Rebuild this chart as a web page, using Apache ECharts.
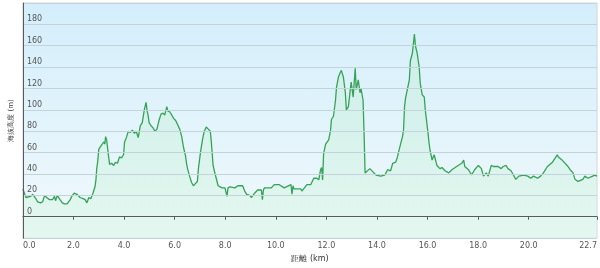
<!DOCTYPE html>
<html>
<head>
<meta charset="utf-8">
<script src="https://cdn.jsdelivr.net/npm/echarts@6/dist/echarts.min.js"></script>
<style>
html,body{margin:0;padding:0;background:#fff;}
#chart{width:600px;height:268px;}
</style>
</head>
<body>
<div id="chart"></div>
<script>
// Distance along the route (km)
const distanceKm = [
0.00,0.12,0.19,0.31,0.39,0.51,0.58,0.70,0.78,0.86,0.94,1.05,1.17,1.25,1.29,1.36,1.44,1.56,1.64,1.75,1.87,1.95,
2.03,2.14,2.26,2.38,2.46,2.53,2.61,2.69,2.77,2.85,2.89,2.92,2.96,3.00,3.08,3.12,3.20,3.24,3.27,3.31,3.39,3.43,
3.51,3.59,3.66,3.74,3.82,3.90,3.98,4.02,4.09,4.17,4.25,4.33,4.41,4.48,4.56,4.64,4.72,4.80,4.87,4.91,4.95,4.99,
5.07,5.15,5.22,5.30,5.38,5.46,5.54,5.61,5.69,5.73,5.81,5.89,5.96,6.04,6.12,6.20,6.28,6.35,6.43,6.47,6.51,6.59,
6.67,6.74,6.82,6.90,6.94,7.02,7.10,7.17,7.25,7.33,7.41,7.45,7.49,7.52,7.60,7.72,7.80,7.88,7.99,8.03,8.07,8.11,
8.19,8.38,8.50,8.69,8.77,8.85,8.97,9.04,9.16,9.28,9.43,9.47,9.51,9.55,9.82,9.94,10.14,10.33,10.60,10.64,10.68,
10.72,10.99,11.03,11.23,11.38,11.50,11.62,11.70,11.77,11.81,11.85,11.89,11.97,12.09,12.16,12.20,12.28,12.36,
12.40,12.48,12.55,12.59,12.67,12.75,12.79,12.87,12.94,12.98,13.06,13.14,13.18,13.26,13.33,13.37,13.45,13.49,
13.53,13.57,13.72,13.84,13.96,14.15,14.31,14.42,14.54,14.62,14.74,14.81,14.89,15.01,15.05,15.09,15.13,15.20,
15.28,15.32,15.40,15.48,15.52,15.59,15.67,15.71,15.79,15.87,15.91,16.02,16.06,16.10,16.18,16.26,16.30,16.37,
16.49,16.57,16.69,16.84,16.96,17.15,17.35,17.43,17.47,17.62,17.74,17.86,18.01,18.13,18.21,18.32,18.40,18.52,
18.60,18.79,18.91,18.99,19.10,19.18,19.30,19.42,19.49,19.61,19.81,19.96,20.08,20.19,20.35,20.47,20.58,20.74,
20.94,21.05,21.13,21.17,21.32,21.52,21.64,21.75,21.83,21.95,22.14,22.22,22.34,22.53,22.61,22.70
];
// Elevation above sea level (m)
const elevationM = [
26,18,17,19,21,17,14,13,14,20,18,16,16,19,15,20,17,13,12,12,16,20,
22,21,18,17,16,13,18,17,22,28,35,45,52,63,66,65,70,68,75,72,56,49,
50,48,51,50,56,55,58,70,74,80,79,81,78,80,74,85,88,100,107,99,95,88,
85,83,80,82,90,96,97,95,103,99,98,95,92,90,86,82,75,65,57,50,45,38,
32,29,31,33,45,60,72,80,84,82,80,70,58,48,40,29,28,27,27,27,19,27,
28,27,29,29,24,21,20,18,22,25,25,16,25,27,27,30,30,27,30,21,29,
26,26,24,30,30,36,36,34.5,44,46,34.5,59,68,72,80,91,94,109,
121,131,135,137,131,116,100,103,118,126,112,139,119,128,116,120,109,78,
41,41,45,42,39,38,39,44,43,50,51,56,64,75,81,103,111,112,
128,146,153,171,160,153,140,125,114,112,100,78,69,62,53,58,57,48,
45,46,43,41,44,47,50,53,47,44,39,44,48,45,38,41,38,48,
47,47,45,47,48,45,43,38,35,38,39,38,36,38,36,38,41,47,
51,55,58,56,53,48,44,41,35,33,35,38,36,38,39,38
];
// Axis ticks
const xTickValues = [0,2,4,6,8,10,12,14,16,18,20,22.7];
const xAxisName = '距離 (km)';
const yAxisName = '海抜高度 (m)';
const yMin = -20, yMax = 200, yStep = 20;

const points = distanceKm.map((d, i) => [d, elevationM[i]]);

const chart = echarts.init(document.getElementById('chart'), null, {renderer: 'canvas'});
const font = 'DejaVu Sans';
chart.setOption({
  animation: false,
  backgroundColor: '#ffffff',
  grid: {
    left: 16, right: 3, top: 3, bottom: 28,
    show: true,
    borderColor: '#cfd6da',
    borderWidth: 1,
    backgroundColor: {
      type: 'linear', x: 0, y: 0, x2: 0, y2: 1,
      colorStops: [
        {offset: 0, color: '#d3eefb'},
        {offset: 1, color: '#f1f9fc'}
      ]
    }
  },
  xAxis: {
    type: 'value',
    min: 0, max: 22.7,
    z: 10,
    name: xAxisName,
    nameLocation: 'middle',
    nameGap: 13,
    nameTextStyle: {fontSize: 8, color: '#333', fontFamily: font},
    axisLine: {show: true, lineStyle: {color: '#5a5a5a', width: 1}},
    axisTick: {show: true, length: 3, lineStyle: {color: '#5a5a5a'}, customValues: xTickValues},
    axisLabel: {
      customValues: xTickValues,
      fontSize: 8, color: '#555', fontFamily: font, margin: 4,
      alignMinLabel: 'left', alignMaxLabel: 'right',
      formatter: v => v.toFixed(1)
    },
    splitLine: {show: false}
  },
  yAxis: {
    type: 'value',
    min: yMin, max: yMax, interval: yStep,
    z: 10,
    name: yAxisName,
    nameLocation: 'middle',
    nameGap: 4,
    nameTextStyle: {fontSize: 7, color: '#333', fontFamily: font},
    axisLine: {show: true, lineStyle: {color: '#5a5a5a', width: 1}},
    axisTick: {show: false},
    axisLabel: {
      inside: true, margin: 4,
      showMinLabel: false, showMaxLabel: false,
      fontSize: 8, color: '#555', fontFamily: font,
      verticalAlign: 'bottom', padding: [0, 0, 1, 0]
    },
    splitLine: {show: true, lineStyle: {color: '#c3d3da', width: 1}}
  },
  series: [{
    type: 'line',
    data: points,
    showSymbol: false,
    symbol: 'none',
    lineStyle: {color: '#35a355', width: 1.3},
    areaStyle: {
      origin: 'start',
      color: {
        type: 'linear', x: 0, y: 0, x2: 0, y2: 1,
        colorStops: [
          {offset: 0, color: 'rgba(185,235,205,0.5)'},
          {offset: 1, color: 'rgba(215,246,228,0.7)'}
        ]
      }
    },
    z: 3
  }]
});
</script>
</body>
</html>
